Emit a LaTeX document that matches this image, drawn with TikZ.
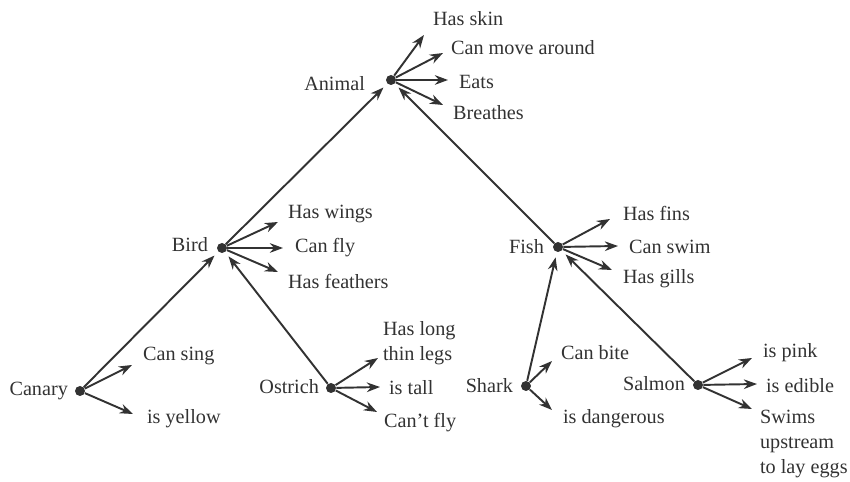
\documentclass[tikz,border=0pt]{standalone}
\usepackage{fontspec}
\setmainfont{Liberation Serif}
\usepackage{tikz}
\usetikzlibrary{arrows.meta}
\definecolor{netink}{RGB}{50,50,50}

\begin{document}
\begin{tikzpicture}[x=0.02cm,y=-0.02cm,
  font=\fontsize{11.5}{14}\selectfont,
  every node/.style={text=netink},
  dot/.style={circle,fill=netink,inner sep=0pt,minimum size=0.2cm},
  prop/.style={netink,line width=1.1pt,-{Stealth[length=7.5pt,width=5.5pt]}},
  isa/.style={netink,line width=1.1pt,-{Stealth[length=7.5pt,width=5.5pt]},shorten >=3pt},
  fact/.style={anchor=west,inner sep=1pt,align=left},
  concept/.style={anchor=east,inner sep=1pt}]
  \useasboundingbox (0,0) rectangle (850,482);
  % concept dots and their names
  \node[dot] (animal) at (391,80) {};
  \node[concept] (animal-l) at (367,84) {Animal};
  \node[dot] (bird) at (222,248) {};
  \node[concept] (bird-l) at (210,245) {Bird};
  \node[dot] (fish) at (558,247) {};
  \node[concept] (fish-l) at (546,247) {Fish};
  \node[dot] (canary) at (80,391) {};
  \node[concept] (canary-l) at (70,391) {Canary};
  \node[dot] (ostrich) at (331,388) {};
  \node[concept] (ostrich-l) at (321,387) {Ostrich};
  \node[dot] (shark) at (526,386) {};
  \node[concept] (shark-l) at (515,386) {Shark};
  \node[dot] (salmon) at (698,385) {};
  \node[concept] (salmon-l) at (687,384) {Salmon};
  % is-a links
  \draw[isa] (bird) -- (animal);
  \draw[isa] (fish) -- (animal);
  \draw[isa] (canary) -- (bird);
  \draw[isa] (ostrich) -- (bird);
  \draw[isa] (shark) -- (fish);
  \draw[isa] (salmon) -- (fish);
  % animal
  \node[fact] (skin) at (431,19) {Has skin};
  \node[fact] (move) at (449,48) {Can move around};
  \node[fact] (eats) at (457,82) {Eats};
  \node[fact] (breathes) at (451,113) {Breathes};
  \coordinate (skin-t) at (424,35);
  \coordinate (move-t) at (443,53);
  \coordinate (eats-t) at (448,80);
  \coordinate (breathes-t) at (443,105);
  \draw[prop] (animal) -- (skin-t);
  \draw[prop] (animal) -- (move-t);
  \draw[prop] (animal) -- (eats-t);
  \draw[prop] (animal) -- (breathes-t);
  % bird
  \node[fact] (wings) at (286,214) {Has wings};
  \node[fact] (canfly) at (293,248) {Can fly};
  \node[fact] (feathers) at (286,281) {Has feathers};
  \coordinate (wings-t) at (278,222);
  \coordinate (canfly-t) at (283,248);
  \coordinate (feathers-t) at (278,272);
  \draw[prop] (bird) -- (wings-t);
  \draw[prop] (bird) -- (canfly-t);
  \draw[prop] (bird) -- (feathers-t);
  % fish
  \node[fact] (fins) at (621,213) {Has fins};
  \node[fact] (swim) at (627,247) {Can swim};
  \node[fact] (gills) at (621,279) {Has gills};
  \coordinate (fins-t) at (610,219);
  \coordinate (swim-t) at (618,246);
  \coordinate (gills-t) at (612,270);
  \draw[prop] (fish) -- (fins-t);
  \draw[prop] (fish) -- (swim-t);
  \draw[prop] (fish) -- (gills-t);
  % canary
  \node[fact] (sing) at (141,356) {Can sing};
  \node[fact] (yellow) at (145,419) {is yellow};
  \coordinate (sing-t) at (132,365);
  \coordinate (yellow-t) at (133,414);
  \draw[prop] (canary) -- (sing-t);
  \draw[prop] (canary) -- (yellow-t);
  % ostrich
  \node[fact] (legs) at (381,343) {Has long\\thin legs};
  \node[fact] (tall) at (387,388) {is tall};
  \node[fact] (cantfly) at (382,423) {Can't fly};
  \coordinate (legs-t) at (378,358);
  \coordinate (tall-t) at (380,387);
  \coordinate (cantfly-t) at (377,412);
  \draw[prop] (ostrich) -- (legs-t);
  \draw[prop] (ostrich) -- (tall-t);
  \draw[prop] (ostrich) -- (cantfly-t);
  % shark
  \node[fact] (bite) at (559,353) {Can bite};
  \node[fact] (danger) at (561,419) {is dangerous};
  \coordinate (bite-t) at (552,361);
  \coordinate (danger-t) at (552,410);
  \draw[prop] (shark) -- (bite-t);
  \draw[prop] (shark) -- (danger-t);
  % salmon
  \node[fact] (pink) at (761,353) {is pink};
  \node[fact] (edible) at (764,386) {is edible};
  \node[fact] (upstream) at (758,444) {Swims\\upstream\\to lay eggs};
  \coordinate (pink-t) at (752,358);
  \coordinate (edible-t) at (757,384);
  \coordinate (upstream-t) at (752,409);
  \draw[prop] (salmon) -- (pink-t);
  \draw[prop] (salmon) -- (edible-t);
  \draw[prop] (salmon) -- (upstream-t);
\end{tikzpicture}
\end{document}
